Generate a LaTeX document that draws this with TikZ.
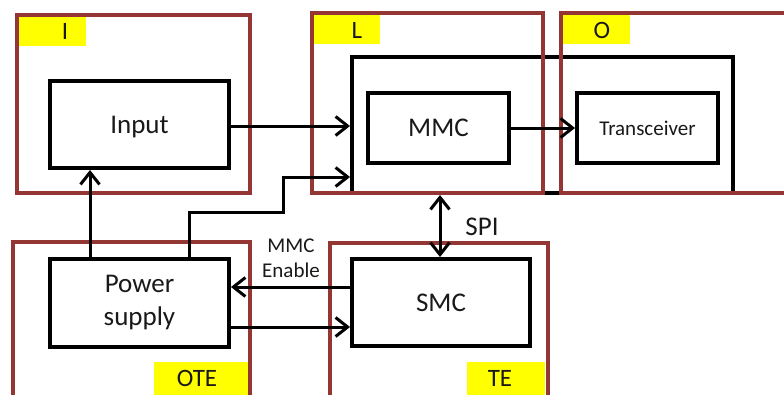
\documentclass[tikz,border=0pt]{standalone}
\usepackage{fontspec}
\setmainfont{Carlito}
\usetikzlibrary{arrows.meta}
\definecolor{frame}{RGB}{148,54,52}
\definecolor{tagyellow}{RGB}{255,255,0}
\definecolor{ink}{RGB}{25,25,25}
\begin{document}
\begin{tikzpicture}[x=1pt,y=-1pt,
  blk/.style={draw=black,line width=4pt,fill=white,inner sep=0pt,text=ink,
    font=\fontsize{27}{33}\selectfont,align=center},
  zone/.style={draw=frame,line width=3.5pt},
  tag/.style={fill=tagyellow},
  tagtext/.style={font=\fontsize{25}{30}\selectfont,inner sep=0pt,text=ink},
  lbl/.style={font=\fontsize{27}{33}\selectfont,inner sep=0pt,text=ink},
  small/.style={font=\fontsize{21}{25}\selectfont,inner sep=0pt,text=ink,align=center},
  arr/.style={line width=3pt,-{Straight Barb[length=12pt,width=19pt,line width=3pt]}},
  darr/.style={line width=3pt,{Straight Barb[length=12pt,width=19pt,line width=3pt]}-{Straight Barb[length=12pt,width=19pt,line width=3pt]}}]
\clip (0,0) rectangle (784,394);
\fill[white] (0,0) rectangle (784,394);
% yellow tags
\fill[tag] (17,15) rectangle (86,46);
\fill[tag] (312,13) rectangle (380,44);
\fill[tag] (561,13) rectangle (630,44);
\fill[tag] (154,362) rectangle (248,396);
\fill[tag] (467,362) rectangle (545,396);
\node[tagtext] (tI) at (65,31) {I};
\node[tagtext] (tL) at (357,30) {L};
\node[tagtext] (tO) at (602,30) {O};
\node[tagtext] (tOTE) at (197,378) {OTE};
\node[tagtext] (tTE) at (500,378) {TE};
% large enclosure
\node[draw=black,line width=4pt,inner sep=0pt,minimum width=381pt,minimum height=136pt] (area) at (542.5,125) {};
% zone frames
\draw[zone] (17,15) rectangle (250,193);
\draw[zone] (312,13) rectangle (543,193);
\draw[zone] (561,13) rectangle (800,193);
\draw[zone] (13,242) rectangle (250,410);
\draw[zone] (330,243) rectangle (548,410);
% blocks
\node[blk,minimum width=179pt,minimum height=87pt,text depth=0pt] (input) at (139.5,124.5) {Input};
\node[blk,minimum width=141pt,minimum height=70pt] (mmc) at (438.5,128) {MMC};
\node[blk,minimum width=141pt,minimum height=70pt,font=\fontsize{21}{25}\selectfont] (trx) at (647.5,128) {Transceiver};
\node[blk,minimum width=179pt,minimum height=88pt] (ps) at (139.5,303) {Power\\supply};
\node[blk,minimum width=178pt,minimum height=87pt] (smc) at (441,302.5) {SMC};
% connectors
\draw[arr] (input.east |- 0,126) -- (area.west |- 0,126);
\draw[arr] (mmc.east) -- (trx.west);
\draw[arr] (ps.north -| 90,0) -- (input.south -| 90,0);
\coordinate (b1) at (189,212);
\coordinate (b2) at (283,212);
\coordinate (b3) at (283,177);
\draw[arr] (ps.north -| b1) -- (b1) -- (b2) -- (b3) -- (area.west |- b3);
\draw[arr] (smc.west |- 0,287) -- (ps.east |- 0,287);
\draw[arr] (ps.east |- 0,327) -- (smc.west |- 0,327);
\draw[darr] (area.south -| 440,0) -- (smc.north -| 440,0);
% labels
\node[small] (en) at (291,258) {MMC\\Enable};
\node[lbl] (spi) at (482,227) {SPI};
\end{tikzpicture}
\end{document}
